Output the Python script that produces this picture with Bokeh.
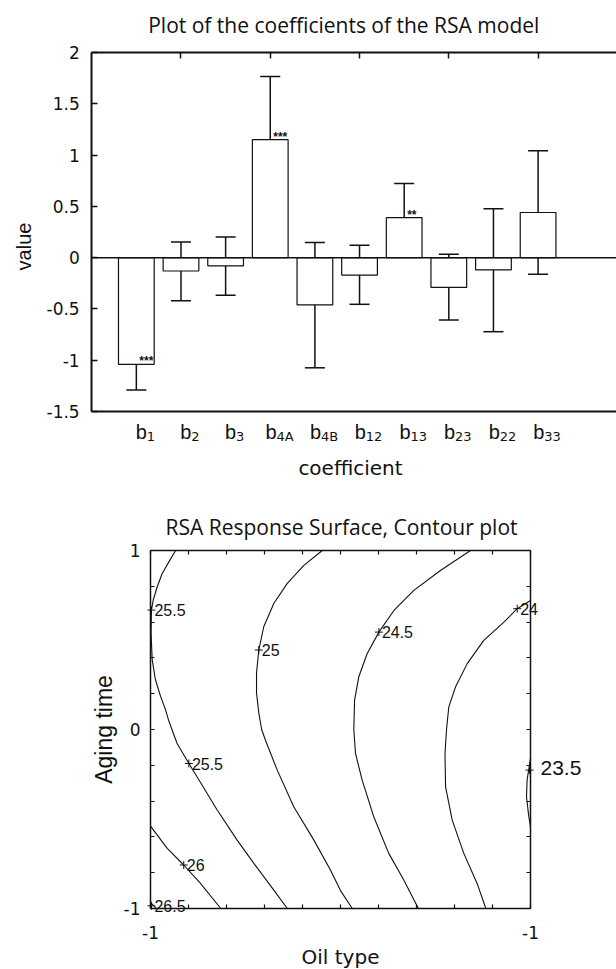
import math
from bokeh.plotting import figure
from bokeh.models import (Range1d, FixedTicker, LinearAxis, Whisker, TeeHead,
                          Label, ColumnDataSource)
from bokeh.layouts import column
from bokeh.embed import file_html
from bokeh.resources import INLINE
from bokeh.core.properties import value

# ---------------- data: coefficient bar chart ----------------
coef_index = [1, 2, 3, 4, 5, 6, 7, 8, 9, 10]
coef_subscripts = ["1", "2", "3", "4A", "4B", "12", "13", "23", "22", "33"]
coef_values = [-1.04, -0.13, -0.08, 1.15, -0.46, -0.17, 0.39, -0.29, -0.12, 0.44]
coef_ci_high = [-0.80, 0.153, 0.202, 1.765, 0.147, 0.121, 0.723, 0.033, 0.476, 1.042]
coef_ci_low = [-1.29, -0.42, -0.367, 0.534, -1.074, -0.455, 0.104, -0.608, -0.722, -0.162]
coef_stars = ["***", "", "", "***", "", "", "**", "", "", ""]
value_ticks = [-1.5, -1, -0.5, 0, 0.5, 1, 1.5, 2]
value_tick_labels = ["-1.5", "-1", "-0.5", "0", "0.5", "1", "1.5", "2"]
top_ticks = [2, 4, 6, 8, 10]

# ---------------- data: contour plot (lines) ----------------
contour_levels = ["26.5", "26", "25.5", "25", "24.5", "24", "23.5"]
contour_xs = [
    [-1.0, -0.97],
    [-1.0, -0.912, -0.825, -0.737, -0.63],
    [-0.868, -0.904, -0.939, -0.965, -0.986, -0.995, -0.997, -0.991, -0.974, -0.947,
     -0.921, -0.905, -0.860, -0.798, -0.728, -0.649, -0.544, -0.456, -0.351, -0.28],
    [-0.096, -0.193, -0.281, -0.351, -0.404, -0.430, -0.442, -0.442, -0.430, -0.415,
     -0.395, -0.333, -0.246, -0.14, -0.053, 0.0, 0.062],
    [0.684, 0.526, 0.386, 0.281, 0.202, 0.140, 0.096, 0.074, 0.070, 0.079, 0.114,
     0.175, 0.254, 0.333, 0.41],
    [1.0, 0.930, 0.860, 0.754, 0.667, 0.605, 0.570, 0.558, 0.550, 0.553, 0.588,
     0.649, 0.719, 0.765],
    [1.0, 0.982, 0.979, 0.991, 1.0],
]
contour_ys = [
    [-0.965, -1.0],
    [-0.54, -0.664, -0.757, -0.860, -1.0],
    [1.0, 0.935, 0.870, 0.796, 0.722, 0.667, 0.537, 0.389, 0.278, 0.185,
     0.111, 0.052, -0.078, -0.190, -0.311, -0.450, -0.618, -0.748, -0.897, -1.0],
    [1.0, 0.917, 0.815, 0.704, 0.574, 0.444, 0.315, 0.204, 0.093, 0.0,
     -0.060, -0.227, -0.432, -0.618, -0.785, -0.900, -1.0],
    [1.0, 0.888, 0.777, 0.665, 0.544, 0.423, 0.293, 0.163, 0.0, -0.134, -0.283,
     -0.487, -0.692, -0.841, -1.0],
    [0.721, 0.675, 0.600, 0.498, 0.368, 0.237, 0.126, 0.0, -0.134, -0.320, -0.506,
     -0.692, -0.86, -1.0],
    [-0.162, -0.283, -0.376, -0.487, -0.543],
]
clabel_text = ["25.5", "25", "24.5", "24", "25.5", "26", "26.5"]
clabel_x = [-0.995, -0.430, 0.202, 0.930, -0.798, -0.825, -0.995]
clabel_y = [0.667, 0.444, 0.544, 0.675, -0.190, -0.757, -0.985]
outer_label_text = "23.5"
outer_label_x = 0.995
outer_label_y = -0.227
oil_major = [-1, 1]
oil_labels = ["-1", "-1"]
aging_major = [-1, 0, 1]
aging_labels = ["-1", "0", "1"]
minor_steps = [-0.8, -0.6, -0.4, -0.2, 0.0, 0.2, 0.4, 0.6, 0.8]

BLACK = "#111111"
SANS = "Liberation Sans"
WIDE = "DejaVu Sans"
TITLE = "Open Sans"

# ---------- layout geometry (pixels) ----------
W = 616
H1, H2 = 490, 479
# top chart inner box
T_L, T_R, T_T, T_B = 91.2, 616.0, 52.0, 411.0
X1_MIN, Y1_MIN, Y1_MAX = 0.0, -1.5, 2.0
x1_px = 44.64
y1_px = (T_B - T_T) / (Y1_MAX - Y1_MIN)
X1_MAX = X1_MIN + (T_R - T_L) / x1_px
# bottom chart inner box (local to its canvas)
B_L, B_R, B_T, B_B = 150.0, 530.0, 60.0, 418.0
x2_px = (B_R - B_L) / 2.0
y2_px = (B_B - B_T) / 2.0


def full_range(lo, hi, px_per, pad_lo, pad_hi):
    return Range1d(lo - pad_lo / px_per, hi + pad_hi / px_per)


def text_label(fig_h, cx, cy, txt, font, size, angle=0.0, align="center"):
    # cx, cy: visual centre of the text in the figure's own pixel space (from top-left)
    return Label(x=cx, y=fig_h - cy, x_units="screen", y_units="screen", text=txt,
                  angle=angle, text_align=align, text_baseline="middle",
                  text_font=font, text_font_size=size, text_color=BLACK)


# ================= top chart =================
p1 = figure(width=W, height=H1,
            x_range=full_range(X1_MIN, X1_MAX, x1_px, T_L, W - T_R),
            y_range=full_range(Y1_MIN, Y1_MAX, y1_px, H1 - T_B, T_T),
            x_axis_location=None, y_axis_location=None,
            output_backend="svg", toolbar_location=None, min_border=0)
p1.outline_line_color = None
p1.grid.visible = False

src = ColumnDataSource(dict(x=coef_index, v=coef_values, hi=coef_ci_high,
                            lo=coef_ci_low, s=coef_stars))
p1.vbar(x="x", width=0.8, top="v", bottom=0, source=src, fill_color="white",
        line_color=BLACK, line_width=1.2)
p1.segment(x0=X1_MIN, x1=X1_MAX, y0=0, y1=0, line_color=BLACK, line_width=1.5)
p1.add_layout(Whisker(source=src, base="x", upper="hi", lower="lo",
                      line_color=BLACK, line_width=1.5,
                      upper_head=TeeHead(size=20, line_color=BLACK, line_width=1.5),
                      lower_head=TeeHead(size=20, line_color=BLACK, line_width=1.5)))
p1.text(x="x", y="v", text="s", source=src, x_offset=3, y_offset=-3,
        text_baseline="middle", text_font=value(SANS), text_font_size="12px",
        text_font_style="bold", text_color=BLACK)


def base_axis(ax, lw):
    ax.axis_line_width = lw
    ax.axis_line_color = BLACK
    ax.major_tick_line_color = BLACK
    ax.minor_tick_line_color = BLACK
    ax.major_tick_out = 0
    ax.minor_tick_out = 0
    ax.major_label_text_color = BLACK
    ax.major_label_text_font = WIDE
    ax.major_label_text_font_size = "17px"


ya = LinearAxis(fixed_location=X1_MIN, bounds=(Y1_MIN, Y1_MAX),
                ticker=FixedTicker(ticks=value_ticks),
                major_label_overrides={t: l for t, l in zip(value_ticks, value_tick_labels)})
base_axis(ya, 2)
ya.major_tick_in = 6
ya.minor_tick_in = 0
ya.major_tick_line_width = 1.5
ya.major_label_standoff = 12
p1.add_layout(ya, "left")

xa = LinearAxis(fixed_location=Y1_MIN, bounds=(X1_MIN, X1_MAX), ticker=FixedTicker(ticks=[]))
base_axis(xa, 2)
xa.major_tick_in = 0
xa.minor_tick_in = 0
p1.add_layout(xa, "below")

xt = LinearAxis(fixed_location=Y1_MAX, bounds=(X1_MIN, X1_MAX),
                ticker=FixedTicker(ticks=top_ticks),
                major_label_overrides={t: "" for t in top_ticks})
base_axis(xt, 2)
xt.major_tick_in = 6
xt.minor_tick_in = 0
xt.major_tick_line_width = 1.5
p1.add_layout(xt, "above")

p1.add_layout(text_label(H1, 346, 24, "Plot of the coefficients of the RSA  model",
                         TITLE, "21px"))
p1.add_layout(text_label(H1, 23, 246, "value", SANS, "20px", angle=math.pi / 2))
p1.add_layout(text_label(H1, 350, 467, "coefficient", WIDE, "20px"))
for xi, sub in zip(coef_index, coef_subscripts):
    total_w = 11 + 8.3 * len(sub)
    left = 9 - total_w / 2
    p1.add_layout(Label(x=xi, y=H1 - 431.5, x_units="data", y_units="screen", x_offset=left,
                        text="b", text_align="left", text_baseline="middle",
                        text_font=SANS, text_font_size="20px", text_color=BLACK))
    p1.add_layout(Label(x=xi, y=H1 - 436, x_units="data", y_units="screen",
                        x_offset=left + 11, text=sub, text_align="left",
                        text_baseline="middle", text_font=WIDE, text_font_size="13px",
                        text_color=BLACK))

# ================= bottom chart =================
p2 = figure(width=W, height=H2,
            x_range=full_range(-1, 1, x2_px, B_L, W - B_R),
            y_range=full_range(-1, 1, y2_px, H2 - B_B, B_T),
            x_axis_location=None, y_axis_location=None,
            output_backend="svg", toolbar_location=None, min_border=0)
p2.grid.visible = False
p2.outline_line_color = None

p2.multi_line(xs=contour_xs, ys=contour_ys, line_color=BLACK, line_width=1.1)
p2.scatter(x=clabel_x + [outer_label_x], y=clabel_y + [outer_label_y], marker="cross",
           size=8, line_color=BLACK, line_width=1)
p2.text(x=clabel_x, y=clabel_y, text=clabel_text, x_offset=3, text_baseline="middle",
        text_font=value(SANS), text_font_size="16px", text_color=BLACK)
p2.add_layout(Label(x=1.0, y=outer_label_y, x_units="data", y_units="data", x_offset=10,
                    y_offset=2, text=outer_label_text, text_baseline="middle",
                    text_font=SANS, text_font_size="21px", text_color=BLACK))


def box_axis(loc, major, labels, standoff, place):
    ax = LinearAxis(fixed_location=loc, bounds=(-1, 1),
                    ticker=FixedTicker(ticks=major,
                                       minor_ticks=[m for m in minor_steps if m not in major]),
                    major_label_overrides={t: l for t, l in zip(major, labels)})
    base_axis(ax, 1.5)
    ax.major_tick_in = 4
    ax.minor_tick_in = 4
    ax.major_tick_line_width = 1.2
    ax.minor_tick_line_width = 1.2
    ax.major_label_standoff = standoff
    p2.add_layout(ax, place)


box_axis(-1, oil_major, oil_labels, 17, "below")
box_axis(-1, aging_major, aging_labels, 10, "left")
box_axis(1, oil_major, ["", ""], 0, "above")
box_axis(1, aging_major, ["", "", ""], 0, "right")

p2.add_layout(text_label(H2, 341, 36, "RSA Response Surface, Contour plot", TITLE, "21px"))
p2.add_layout(Label(x=103, y=0, x_units="screen", y_units="data", text="Aging time",
                    angle=math.pi / 2, text_align="center", text_baseline="middle",
                    text_font=SANS, text_font_size="23px", text_color=BLACK))
p2.add_layout(text_label(H2, 340, 466, "Oil type", WIDE, "20px"))

layout = column(p1, p2)
open("out.html", "w").write(file_html(layout, INLINE))
